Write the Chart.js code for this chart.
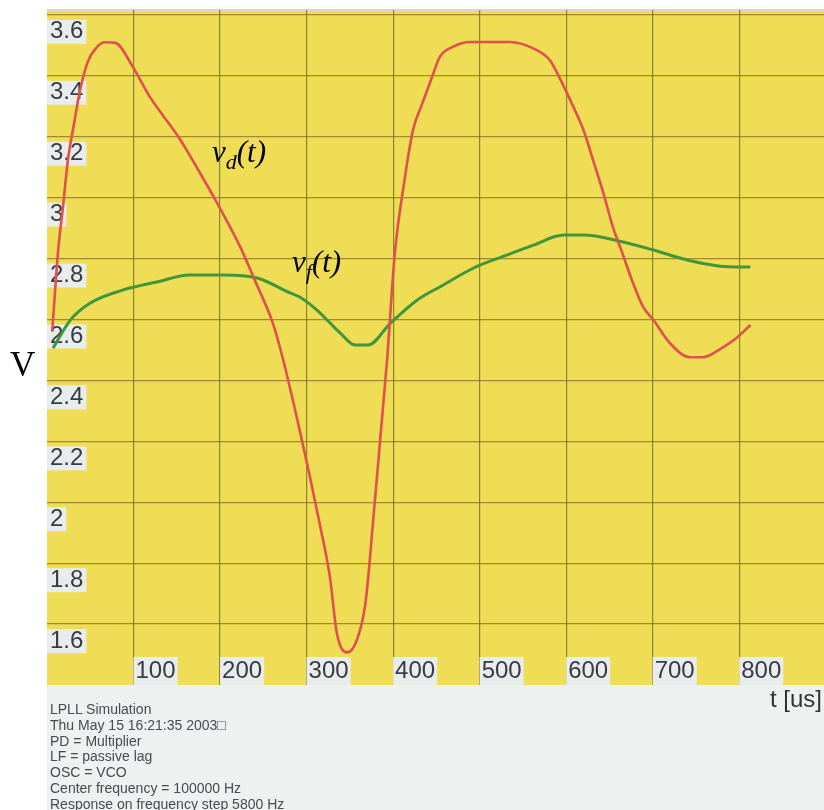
<!DOCTYPE html>
<html>
<head>
<meta charset="utf-8">
<script src="https://cdn.jsdelivr.net/npm/chart.js@4/dist/chart.umd.min.js"></script>
<style>
html,body{margin:0;padding:0;background:#fff;}
#wrap{position:relative;width:824px;height:810px;overflow:hidden;background:#fff;}
#footer{position:absolute;left:47px;top:685px;width:777px;height:125px;background:#eef1f0;}
#c{position:absolute;left:0;top:0;}
.info{position:absolute;left:50px;top:702px;font-family:"Liberation Sans",Arial,sans-serif;font-size:14px;line-height:15.8px;color:#474a52;white-space:pre;}
.ax{position:absolute;font-family:"Liberation Sans",Arial,sans-serif;font-size:24px;line-height:24px;color:#333;white-space:nowrap;}
.vlab{position:absolute;font-family:"Liberation Serif","Times New Roman",serif;font-size:35px;line-height:35px;color:#000;}
.ann{position:absolute;font-family:"Liberation Serif","Times New Roman",serif;font-style:italic;font-size:31px;line-height:31px;color:#000;white-space:nowrap;}
.ann .s{font-size:22px;position:relative;top:7px;}
</style>
</head>
<body>
<div id="wrap">
  <div id="footer"></div>
  <canvas id="c" width="824" height="810"></canvas>
  <div class="info">LPLL Simulation
Thu May 15 16:21:35 2003□
PD = Multiplier
LF = passive lag
OSC = VCO
Center frequency = 100000 Hz
Response on frequency step 5800 Hz</div>
  <div class="ax" style="left:770px;top:687px;">t [us]</div>
  <div class="vlab" style="left:10px;top:347px;">V</div>
  <div class="ann" style="left:212px;top:136px;">v<span class="s">d</span>(t)</div>
  <div class="ann" style="left:292px;top:246px;">v<span class="s">f</span>(t)</div>
</div>
<script>
// ---- data ----
const vdTime = [6, 13, 18.5, 24, 32, 38, 47, 58, 67, 79, 99, 119, 134, 154, 177, 197, 223, 240, 261, 273, 292, 304, 316, 327, 335, 347, 358, 368, 377, 385, 393, 402, 412, 423, 434, 445, 454, 469, 489, 535, 562, 581, 593, 608, 620, 631, 643, 654, 665, 676, 689, 701, 720, 743, 758, 778, 798, 813];
const vdVolt = [2.56, 2.83, 2.97, 3.12, 3.255, 3.35, 3.445, 3.495, 3.51, 3.508, 3.43, 3.33, 3.27, 3.19, 3.08, 2.98, 2.84, 2.73, 2.588, 2.467, 2.237, 2.082, 1.918, 1.754, 1.57, 1.507, 1.547, 1.668, 1.941, 2.204, 2.467, 2.818, 3.035, 3.222, 3.311, 3.396, 3.462, 3.495, 3.511, 3.511, 3.49, 3.452, 3.39, 3.30, 3.222, 3.124, 3.015, 2.904, 2.818, 2.729, 2.641, 2.598, 2.522, 2.476, 2.476, 2.503, 2.542, 2.582];
const vfTime = [7, 27, 50, 88, 127, 165, 203, 243, 281, 292, 312, 339, 356, 371, 397, 428, 458, 493, 532, 562, 597, 620, 662, 701, 740, 778, 813];
const vfVolt = [2.506, 2.598, 2.654, 2.697, 2.723, 2.746, 2.746, 2.736, 2.687, 2.674, 2.631, 2.555, 2.516, 2.516, 2.588, 2.664, 2.713, 2.769, 2.812, 2.844, 2.877, 2.877, 2.857, 2.828, 2.795, 2.775, 2.772];
const xTicks = [100, 200, 300, 400, 500, 600, 700, 800];
const xTickLabels = ["100", "200", "300", "400", "500", "600", "700", "800"];
const yTicks = [1.6, 1.8, 2.0, 2.2, 2.4, 2.6, 2.8, 3.0, 3.2, 3.4, 3.6];
const yTickLabels = ["1.6", "1.8", "2", "2.2", "2.4", "2.6", "2.8", "3", "3.2", "3.4", "3.6"];
const xMin = 0, xMax = 898, yMin = 1.4, yMax = 3.616;

const toPts = (ts, vs) => ts.map((t, i) => ({x: t, y: vs[i]}));

const bgPlugin = {
  id: 'bg',
  beforeDraw(chart) {
    const {ctx, chartArea: a} = chart;
    ctx.save();
    ctx.fillStyle = '#efdd55';
    ctx.fillRect(a.left, a.top, a.right - a.left, a.bottom - a.top);
    ctx.fillStyle = '#d6d8d6';
    ctx.fillRect(a.left, a.top - 1, a.right - a.left, 2);
    ctx.restore();
  }
};

const tickLabelPlugin = {
  id: 'tickLabels',
  beforeDatasetsDraw(chart) {
    const {ctx, chartArea: a, scales: {x, y}} = chart;
    ctx.save();
    ctx.font = '24px "Liberation Sans", Arial, sans-serif';
    ctx.textBaseline = 'middle';
    ctx.textAlign = 'left';
    yTicks.forEach((v, i) => {
      const py = y.getPixelForValue(v);
      const w = ctx.measureText(yTickLabels[i]).width;
      ctx.fillStyle = '#e8ecea';
      ctx.fillRect(a.left, py + 5, w + 6, 24);
      ctx.fillStyle = '#383a44';
      ctx.fillText(yTickLabels[i], a.left + 3, py + 17);
    });
    xTicks.forEach((v, i) => {
      const px = x.getPixelForValue(v);
      const w = ctx.measureText(xTickLabels[i]).width;
      ctx.fillStyle = '#e8ecea';
      ctx.fillRect(px, a.bottom - 28, w + 4, 28);
      ctx.fillStyle = '#383a44';
      ctx.fillText(xTickLabels[i], px + 2, a.bottom - 14);
    });
    ctx.restore();
  }
};

new Chart(document.getElementById('c'), {
  type: 'line',
  data: {
    datasets: [
      {label: 'vd(t)', data: toPts(vdTime, vdVolt), borderColor: '#e0504c', borderWidth: 2.6, pointRadius: 0, cubicInterpolationMode: 'monotone', fill: false},
      {label: 'vf(t)', data: toPts(vfTime, vfVolt), borderColor: '#3f963c', borderWidth: 3, pointRadius: 0, cubicInterpolationMode: 'monotone', fill: false}
    ]
  },
  options: {
    responsive: false,
    animation: false,
    devicePixelRatio: 1,
    layout: {padding: {left: 47, top: 10, right: 0, bottom: 125}},
    plugins: {legend: {display: false}, tooltip: {enabled: false}},
    scales: {
      x: {
        type: 'linear', min: xMin, max: xMax,
        grid: {color: 'rgba(95,95,35,0.7)', lineWidth: 1.2, drawTicks: false},
        border: {display: false},
        ticks: {display: false},
        afterBuildTicks: s => { s.ticks = xTicks.map(v => ({value: v})); },
        afterFit: s => { s.height = 0; }
      },
      y: {
        type: 'linear', min: yMin, max: yMax,
        grid: {color: 'rgba(125,90,35,0.65)', lineWidth: 1.2, drawTicks: false},
        border: {display: false},
        ticks: {display: false},
        afterBuildTicks: s => { s.ticks = yTicks.map(v => ({value: v})); },
        afterFit: s => { s.width = 0; }
      }
    }
  },
  plugins: [bgPlugin, tickLabelPlugin]
});
</script>
</body>
</html>
